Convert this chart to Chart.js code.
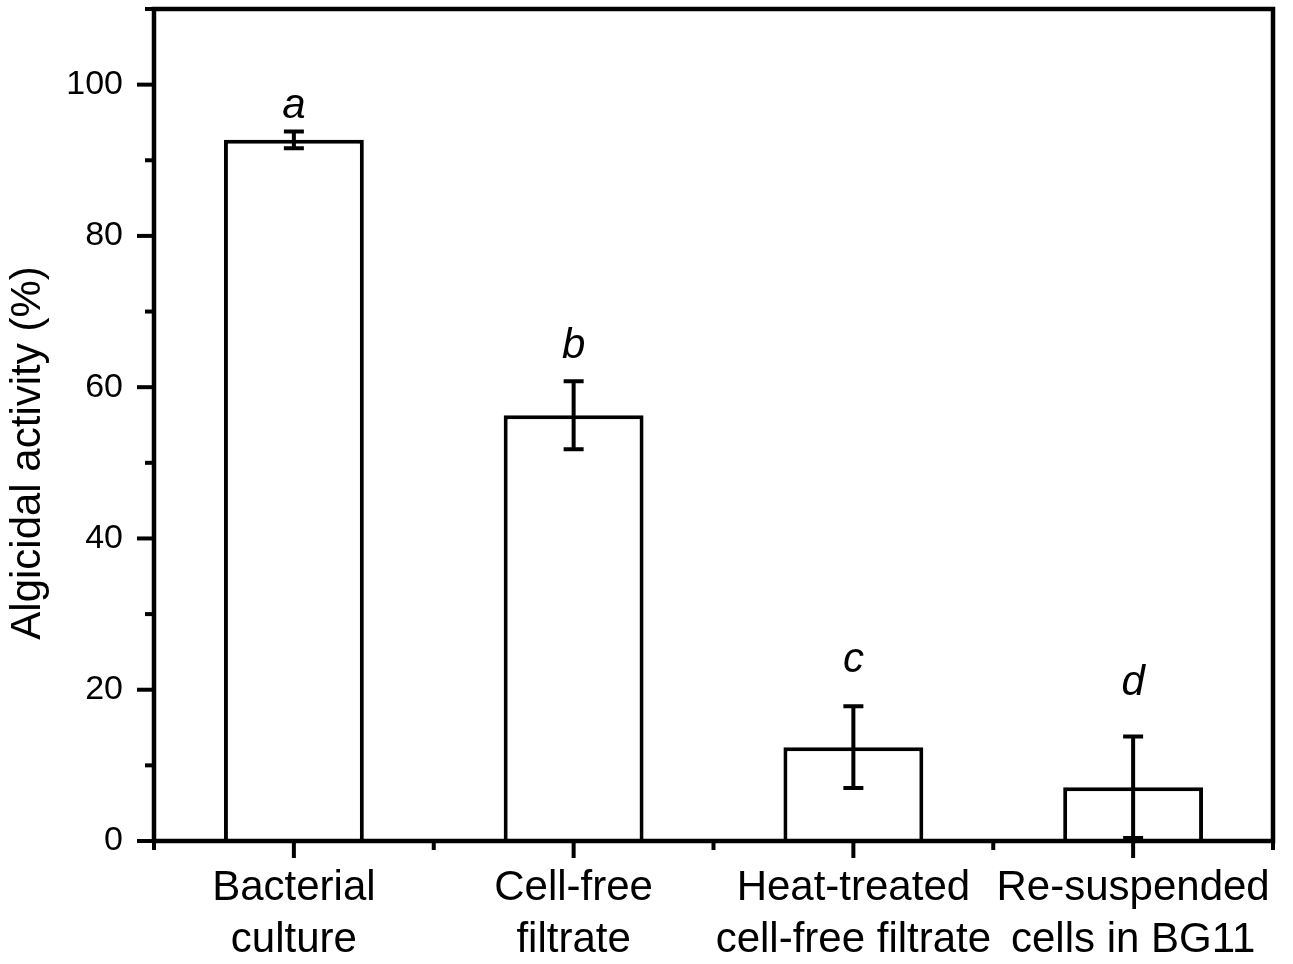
<!DOCTYPE html>
<html>
<head>
<meta charset="utf-8">
<script src="https://cdn.jsdelivr.net/npm/chart.js@4"></script>
<style>
  html, body { margin: 0; padding: 0; background: #fff; }
  canvas { display: block; }
</style>
</head>
<body>
<canvas id="chart" width="1293" height="964"></canvas>
<script>
// values
var categories = [
  ['Bacterial', 'culture'],
  ['Cell-free', 'filtrate'],
  ['Heat-treated', 'cell-free filtrate'],
  ['Re-suspended', 'cells in BG11']
];
var activity = [92.7, 56.3, 12.4, 7.1];
var errors = [1.1, 4.5, 5.4, 6.7];
var letters = ['a', 'b', 'c', 'd'];
var letterAt = [95.6, 63.9, 22.4, 19.3];   // baseline of each letter, in % units
var yTitle = 'Algicidal activity (%)';

var FONT = '"Liberation Sans", Arial, Helvetica, sans-serif';

// frame, ticks, error bars and significance letters
var decorations = {
  id: 'decorations',
  afterDatasetsDraw: function (chart) {
    var ctx = chart.ctx;
    var area = chart.chartArea;
    var xs = chart.scales.x;
    var ys = chart.scales.y;
    var meta = chart.getDatasetMeta(0);
    ctx.save();
    ctx.strokeStyle = '#000';
    ctx.lineCap = 'butt';

    // error bars
    ctx.lineWidth = 4;
    meta.data.forEach(function (bar, i) {
      var hi = ys.getPixelForValue(activity[i] + errors[i]);
      var lo = ys.getPixelForValue(activity[i] - errors[i]);
      ctx.beginPath();
      ctx.moveTo(bar.x, hi); ctx.lineTo(bar.x, lo);
      ctx.moveTo(bar.x - 10, hi); ctx.lineTo(bar.x + 10, hi);
      ctx.moveTo(bar.x - 10, lo); ctx.lineTo(bar.x + 10, lo);
      ctx.stroke();
    });

    // box
    ctx.lineWidth = 4.5;
    ctx.beginPath();
    ctx.rect(area.left, area.top, area.right - area.left, area.bottom - area.top);
    ctx.stroke();

    // y ticks (major every 20, minor every 10)
    ctx.lineWidth = 4;
    ys.ticks.forEach(function (t) {
      var py = ys.getPixelForValue(t.value);
      var len = t.value % 20 === 0 ? 17 : 9;
      ctx.beginPath();
      ctx.moveTo(area.left, py); ctx.lineTo(area.left - len, py);
      ctx.stroke();
    });

    // x ticks: major at categories, minor at boundaries
    for (var i = 0; i < categories.length; i++) {
      var px = xs.getPixelForValue(i);
      ctx.beginPath();
      ctx.moveTo(px, area.bottom); ctx.lineTo(px, area.bottom + 17);
      ctx.stroke();
    }
    for (var j = 0; j <= categories.length; j++) {
      var bx = xs.getPixelForValue(j - 0.5);
      ctx.beginPath();
      ctx.moveTo(bx, area.bottom); ctx.lineTo(bx, area.bottom + 9);
      ctx.stroke();
    }

    // letters
    ctx.fillStyle = '#000';
    ctx.font = 'italic 42px ' + FONT;
    ctx.textAlign = 'center';
    ctx.textBaseline = 'alphabetic';
    meta.data.forEach(function (bar, i) {
      ctx.fillText(letters[i], bar.x, ys.getPixelForValue(letterAt[i]));
    });

    // y axis title
    ctx.font = '42px ' + FONT;
    ctx.translate(40, 453);
    ctx.rotate(-Math.PI / 2);
    ctx.fillText(yTitle, 0, 0);
    ctx.restore();
  }
};

new Chart(document.getElementById('chart').getContext('2d'), {
  type: 'bar',
  data: {
    labels: categories,
    datasets: [{
      data: activity,
      backgroundColor: '#fff',
      borderColor: '#000',
      borderWidth: 4,
      categoryPercentage: 1,
      barPercentage: 0.5
    }]
  },
  options: {
    responsive: false,
    animation: false,
    devicePixelRatio: 1,
    layout: { padding: { top: 9, right: 20, left: 0, bottom: 0 } },
    plugins: { legend: { display: false }, tooltip: { enabled: false } },
    scales: {
      x: {
        grid: { display: false, drawTicks: false },
        border: { display: false },
        ticks: {
          color: '#000',
          font: { family: FONT, size: 42, lineHeight: 1.24 },
          padding: 21,
          autoSkip: false,
          maxRotation: 0,
          minRotation: 0
        },
        afterFit: function (s) {
          s.height = 123;
          s.paddingLeft = 0; s.paddingRight = 0;
        }
      },
      y: {
        min: 0,
        max: 110,
        grid: { display: false, drawTicks: false },
        border: { display: false },
        ticks: {
          stepSize: 10,
          autoSkip: false,
          color: '#000',
          font: { family: FONT, size: 34 },
          padding: 31,
          callback: function (v) { return v % 20 === 0 ? v : ''; }
        },
        afterFit: function (s) {
          s.width = 154;
          s.paddingTop = 0; s.paddingBottom = 0;
        }
      }
    }
  },
  plugins: [decorations]
});
</script>
</body>
</html>
